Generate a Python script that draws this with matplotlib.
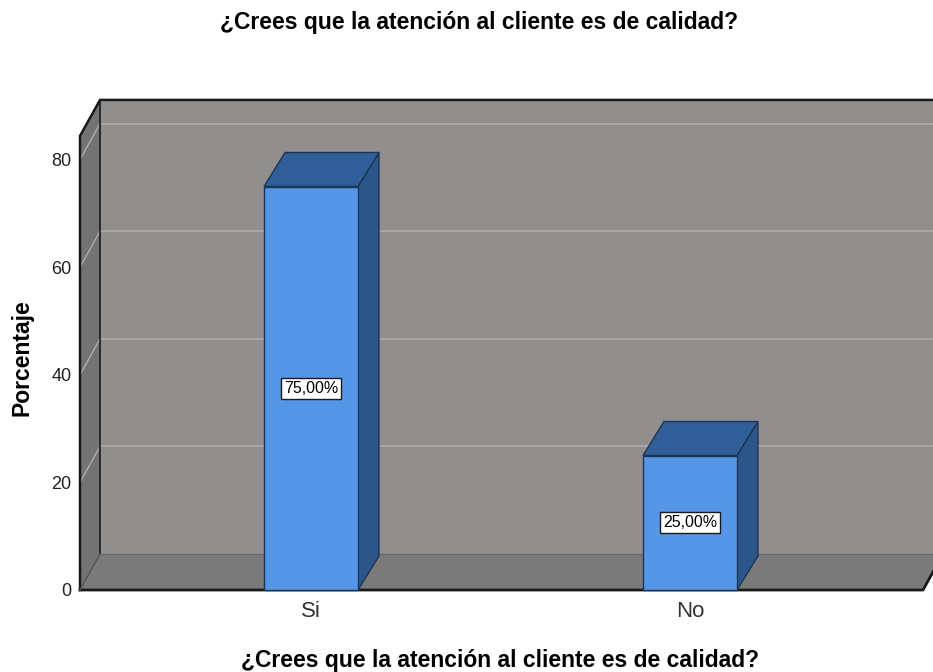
import matplotlib
matplotlib.use("Agg")
import matplotlib.pyplot as plt
from matplotlib.patches import Polygon

plt.rcParams['font.family'] = ['Liberation Sans', 'DejaVu Sans']

title = "¿Crees que la atención al cliente es de calidad?"
categories = ["Si", "No"]
percentages = [75.0, 25.0]
yticks = [0, 20, 40, 60, 80]
y_label = "Porcentaje"
x_label = "¿Crees que la atención al cliente es de calidad?"

W, H = 933, 672
fig = plt.figure(figsize=(W / 100, H / 100), dpi=100)

# geometry in pixels
x0_px, x1_px = 80, 923
y0_px = 590
ppu = 5.38          # pixels per percent
cat_px = [311, 690]
xpu = cat_px[1] - cat_px[0]
WT = 84.4           # wall top value
ymax = WT
ax = fig.add_axes([x0_px / W, (H - y0_px) / H, (x1_px - x0_px) / W, ymax * ppu / H])
xl = -(cat_px[0] - x0_px) / xpu
xr = (x1_px - cat_px[0]) / xpu
ax.set_xlim(xl, xr)
ax.set_ylim(0, ymax)
for s in ax.spines.values():
    s.set_visible(False)
ax.patch.set_visible(False)

DX = 20 / xpu
DY = 36 / ppu

back_col = '#928e8d'
side_col = '#737373'
floor_col = '#7a7a7a'
grid_col = '#b0acab'

def poly(pts, fc, ec='none', lw=0, z=1):
    p = Polygon(pts, closed=True, facecolor=fc, edgecolor=ec, linewidth=lw,
                clip_on=False, zorder=z, joinstyle='miter')
    ax.add_patch(p)
    return p

# back wall
poly([(xl + DX, DY), (xr + DX, DY), (xr + DX, WT + DY), (xl + DX, WT + DY)], back_col, z=1)
# left side wall
poly([(xl, 0), (xl + DX, DY), (xl + DX, WT + DY), (xl, WT)], side_col, z=1)
# grid lines
for t in yticks[1:]:
    ax.plot([xl + DX, xr + DX], [t + DY, t + DY], color=grid_col, lw=1.2, clip_on=False, zorder=2)
    ax.plot([xl, xl + DX], [t, t + DY], color=grid_col, lw=1.0, clip_on=False, zorder=2)
# floor
poly([(xl, 0), (xr, 0), (xr + DX, DY), (xl + DX, DY)], floor_col, z=3)
ax.plot([xl + DX, xr + DX], [DY, DY], color='#6a6a6a', lw=1.0, clip_on=False, zorder=3)
# edges
ax.plot([xl, xr, xr + DX], [0, 0, DY], color='#1a1a1a', lw=2, clip_on=False, zorder=4, solid_joinstyle='miter')
ax.plot([xl, xl, xl + DX, xr + DX], [0, WT, WT + DY, WT + DY], color='#1a1a1a', lw=1.8,
        clip_on=False, zorder=4, solid_joinstyle='miter')
ax.plot([xl + DX, xl + DX], [DY, WT + DY], color='#1a1a1a', lw=1.2, clip_on=False, zorder=2)
ax.plot([xl, xl + DX], [0, DY], color='#555555', lw=1.0, clip_on=False, zorder=4)

# bars
bw = 94 / xpu
front_col = '#5596e6'
top_col = '#2f5e98'
sidebar_col = '#2c568a'
edge = '#1e3553'
bDX = 21 / xpu
bDY = 34 / ppu
for i, v in enumerate(percentages):
    l, r = i - bw / 2, i + bw / 2
    poly([(r, 0), (r + bDX, bDY), (r + bDX, v + bDY), (r, v)], sidebar_col, edge, 1.0, z=5)
    poly([(l, v), (r, v), (r + bDX, v + bDY), (l + bDX, v + bDY)], top_col, edge, 1.0, z=5)
    poly([(l, 0), (r, 0), (r, v), (l, v)], front_col, edge, 1.0, z=6)
    lab = f"{v:.2f}%".replace('.', ',')
    ax.text(i, v / 2, lab, ha='center', va='center', fontsize=11.5, color='black', zorder=7,
            bbox=dict(boxstyle='square,pad=0.18', facecolor='white', edgecolor='#1a1a1a', linewidth=1.0))

ax.set_yticks(yticks)
ax.set_yticklabels([str(t) for t in yticks], fontsize=13, color='#222222')
ax.set_xticks(range(len(categories)))
ax.set_xticklabels(categories, fontsize=16, color='#333333')
ax.tick_params(axis='both', length=0)
ax.tick_params(axis='y', pad=6)
ax.tick_params(axis='x', pad=8)

fig.text(479 / W, 1 - 22 / H, title, ha='center', va='center', fontsize=16.5, fontweight='bold')
fig.text(500 / W, 1 - 660 / H, x_label, ha='center', va='center', fontsize=16.5, fontweight='bold')
fig.text(22 / W, 1 - 358 / H, y_label, ha='center', va='center', rotation=90, fontsize=16.5, fontweight='bold')

fig.savefig('out.png', dpi=100)
